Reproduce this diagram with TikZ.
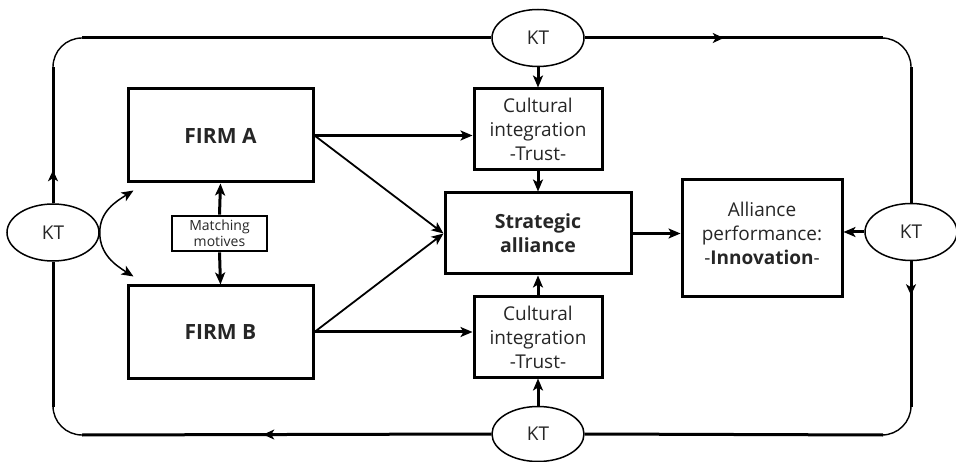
\documentclass[tikz,border=0pt]{standalone}
\usepackage{fontspec}
\setmainfont{Open Sans}
\usetikzlibrary{arrows.meta,decorations.markings,shapes.geometric}

\begin{document}
\begin{tikzpicture}[x=1pt,y=-1pt,
  txt/.style={text=black!85, align=center, font=\fontsize{19}{24}\selectfont},
  box/.style={draw, rectangle, line width=3pt, inner sep=0pt, txt},
  kt/.style={draw, ellipse, line width=1.5pt, inner sep=0pt,
    minimum width=92pt, minimum height=57pt, txt},
  tip/.style={-{Stealth[length=12pt,width=10pt,inset=3pt]}},
  strong/.style={tip, line width=3pt},
  slim/.style={tip, line width=1.8pt},
  curvearrow/.style={tip, line width=1.5pt},
  loopline/.style={line width=3pt},
  corner/.style={line width=1.4pt, rounded corners=29pt},
  midarrow/.style={postaction={decorate}, decoration={markings,
    mark=at position #1 with {\arrow{Stealth[length=11pt,width=10pt,inset=3pt]}}}}
]
\useasboundingbox (0,0) rectangle (956,462);

% firms and the motive box between them
\node[box, minimum width=185pt, minimum height=93pt, font=\fontsize{21}{24}\selectfont\bfseries] (firmA) at (220.5,135.5) {FIRM A};
\node[box, minimum width=185pt, minimum height=92pt, font=\fontsize{21}{24}\selectfont\bfseries] (firmB) at (220.5,332) {FIRM B};
\node[box, line width=2.6pt, minimum width=95pt, minimum height=35pt, font=\fontsize{14}{15.5}\selectfont] (match) at (219.5,233.5) {Matching\\motives};

% cultural integration, alliance and performance
\node[box, minimum width=128pt, minimum height=81pt] (cultT) at (538,129.5) {Cultural\\integration\\-Trust-};
\node[box, minimum width=128pt, minimum height=80pt] (cultB) at (538,337) {Cultural\\integration\\-Trust-};
\node[box, minimum width=186pt, minimum height=81pt, font=\fontsize{19.5}{24}\selectfont\bfseries] (sa) at (538,233.5) {Strategic\\alliance};
\node[box, minimum width=160pt, minimum height=117pt] (perf) at (762,238.5) {};
\node[txt] (perftext) at (762,233) {Alliance\\performance:\\-\textbf{Innovation}-};

% knowledge transfer ellipses on the outer loop
\node[kt] (ktL) at (53,232.5) {KT};
\node[kt] (ktT) at (538,38) {KT};
\node[kt] (ktR) at (911,232) {KT};
\node[kt, minimum height=55pt] (ktB) at (538,434) {KT};

% corner points of the outer loop
\coordinate (tlA) at (53,67);  \coordinate (tlC) at (53,38);  \coordinate (tlB) at (82,38);
\coordinate (trA) at (883,38); \coordinate (trC) at (911,38); \coordinate (trB) at (911,67);
\coordinate (brA) at (911,407);\coordinate (brC) at (911,435);\coordinate (brB) at (883,435);
\coordinate (blA) at (82,435); \coordinate (blC) at (53,435); \coordinate (blB) at (53,407);

% outer loop, running clockwise
\draw[loopline, midarrow=33pt] (ktL.north) -- (tlA);
\draw[corner] (tlA) -- (tlC) -- (tlB);
\draw[loopline] (tlB) -- (ktT.west);
\draw[loopline, midarrow=139pt] (ktT.east) -- (trA);
\draw[corner] (trA) -- (trC) -- (trB);
\draw[loopline] (trB) -- (ktR.north);
\draw[loopline, midarrow=34pt] (ktR.south) -- (brA);
\draw[corner] (brA) -- (brC) -- (brB);
\draw[loopline] (brB) -- (ktB.east);
\draw[loopline, midarrow=228pt] (ktB.west) -- (blA);
\draw[corner] (blA) -- (blC) -- (blB);
\draw[loopline] (blB) -- (ktL.south);

% knowledge transfer into the firms
\coordinate (aIn) at ([shift={(7pt,-7pt)}]firmA.south west);
\coordinate (bIn) at ([shift={(7pt,8pt)}]firmB.north west);
\draw[curvearrow] (ktL.east) to[out=90,in=212] (aIn);
\draw[curvearrow] (ktL.east) to[out=-90,in=148] (bIn);

% matching motives
\draw[strong] (match.north) -- (firmA.south);
\draw[strong] (match.south) -- (firmB.north);

% firms to cultural integration and alliance
\draw[strong] (firmA.east) -- (firmA.east -| cultT.west);
\draw[strong] (firmB.east) -- (firmB.east -| cultB.west);
\draw[slim] (firmA.east) -- (sa.west);
\draw[slim] (firmB.east) -- (sa.west);

% vertical links through the centre column
\draw[strong] (ktT.south) -- (cultT.north);
\draw[strong] (cultT.south) -- (sa.north);
\draw[strong] (ktB.north) -- (cultB.south);
\draw[strong] (cultB.north) -- (sa.south);

% alliance to performance, and knowledge transfer into it
\draw[strong] (sa.east) -- (sa.east -| perf.west);
\draw[strong] (ktR.west) -- (ktR.west -| perf.east);
\end{tikzpicture}
\end{document}
